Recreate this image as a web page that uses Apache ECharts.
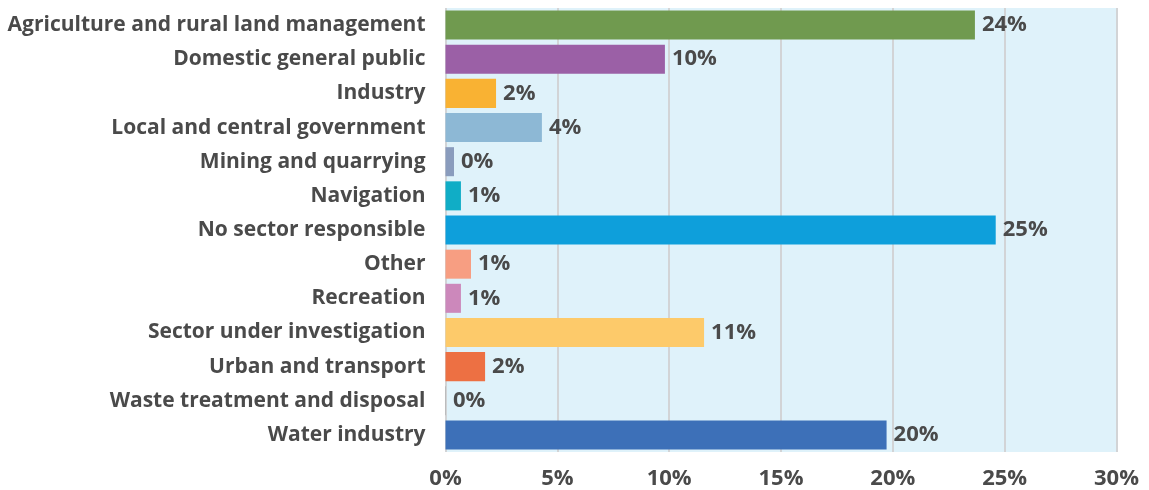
<!DOCTYPE html>
<html>
<head>
<meta charset="utf-8">
<script src="https://cdn.jsdelivr.net/npm/echarts@6/dist/echarts.min.js"></script>
<style>html,body{margin:0;padding:0;background:#fff}#c{width:1149px;height:490px}</style>
</head>
<body>
<div id="c"></div>
<script>
const categories = [
  "Agriculture and rural land management",
  "Domestic general public",
  "Industry",
  "Local and central government",
  "Mining and quarrying",
  "Navigation",
  "No sector responsible",
  "Other",
  "Recreation",
  "Sector under investigation",
  "Urban and transport",
  "Waste treatment and disposal",
  "Water industry"
];
const values = [23.67, 9.81, 2.26, 4.31, 0.38, 0.69, 24.6, 1.14, 0.69, 11.56, 1.77, 0.02, 19.72];
const valueLabels = ["24%", "10%", "2%", "4%", "0%", "1%", "25%", "1%", "1%", "11%", "2%", "0%", "20%"];
const barColors = ["#709a4f", "#9b60a6", "#f9b233", "#8db8d5", "#8a9cbd", "#10adc6", "#0e9fdb", "#f79e82", "#cc88bb", "#fdca6a", "#ed7043", "#a0a0a0", "#3d70b8"];
const xTicks = [0, 5, 10, 15, 20, 25, 30];

const FONT = "'Open Sans'";
const TXT = "#4a4a4a";
const chart = echarts.init(document.getElementById('c'), null, {renderer: 'canvas'});
chart.setOption({
  animation: false,
  grid: {
    left: 445.5, right: 32.5, top: 8, bottom: 38,
    show: true, backgroundColor: '#dff2fa', borderWidth: 0
  },
  xAxis: {
    type: 'value', min: xTicks[0], max: xTicks[xTicks.length - 1], interval: 5,
    axisLine: {show: false}, axisTick: {show: false},
    splitLine: {show: true, lineStyle: {color: '#d2d4d6', width: 2}},
    axisLabel: {
      formatter: v => v + '%', color: TXT, fontFamily: FONT, fontWeight: 'bold',
      fontSize: 22, margin: 16
    }
  },
  yAxis: {
    type: 'category', data: categories, inverse: true,
    axisLine: {show: false}, axisTick: {show: false},
    axisLabel: {color: TXT, fontFamily: FONT, fontWeight: 'bold', fontSize: 21, margin: 20}
  },
  series: [{
    type: 'bar',
    data: values.map((v, i) => ({value: v, itemStyle: {color: barColors[i]}})),
    barCategoryGap: '15%',
    label: {
      show: true, position: 'right', distance: 7,
      formatter: p => valueLabels[p.dataIndex],
      color: TXT, fontFamily: FONT, fontWeight: 'bold', fontSize: 22
    }
  }]
});
</script>
</body>
</html>
